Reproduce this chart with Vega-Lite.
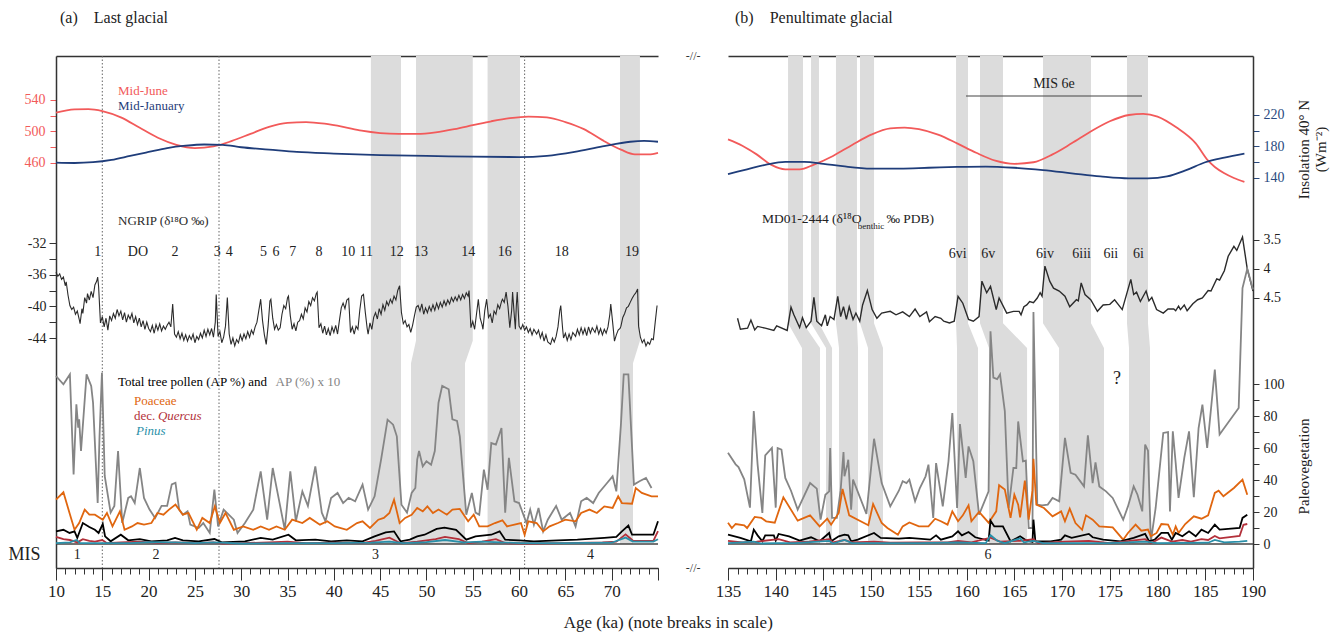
{
"$schema": "https://vega.github.io/schema/vega-lite/v6.json",
"background": "white",
"padding": {"left": 8, "top": 10, "right": 5, "bottom": 5},
"config": {
 "font": "Liberation Serif",
 "view": {"stroke": null},
 "axis": {"grid": false, "labelFont": "Liberation Serif", "titleFont": "Liberation Serif", "labelColor": "#222", "titleColor": "#222", "domainColor": "#333", "tickColor": "#333", "titleFontWeight": "normal", "labelFontSize": 14, "labelOverlap": false, "labelFlush": false, "labelBound": false},
 "title": {"font": "Liberation Serif", "fontWeight": "normal", "color": "#222"},
 "text": {"font": "Liberation Serif", "color": "#222"}
},
"title": {"text": "Age (ka) (note breaks in scale)", "orient": "bottom", "anchor": "middle", "frame": "bounds", "fontSize": 17, "offset": 16},
"datasets": {
 "ngrip": [
{"t":10.0,"v":-35.7},{"t":10.2,"v":-36.2},{"t":10.4,"v":-35.9},{"t":10.6,"v":-36.6},{"t":10.8,"v":-36.3},{"t":11.0,"v":-37.4},{"t":11.1,"v":-36.9},{"t":11.3,"v":-38.6},{"t":11.5,"v":-39.9},{"t":11.7,"v":-40.4},{"t":11.9,"v":-40.1},{"t":12.1,"v":-41.0},{"t":12.3,"v":-40.6},{"t":12.5,"v":-41.6},{"t":12.6,"v":-42.2},{"t":12.8,"v":-40.3},{"t":12.9,"v":-40.9},{"t":13.1,"v":-38.9},{"t":13.3,"v":-39.6},{"t":13.4,"v":-38.4},{"t":13.6,"v":-39.2},{"t":13.8,"v":-38.1},{"t":14.0,"v":-38.9},{"t":14.2,"v":-37.3},{"t":14.4,"v":-36.8},{"t":14.5,"v":-36.3},{"t":14.6,"v":-37.5},{"t":14.8,"v":-42.1},{"t":15.0,"v":-41.3},{"t":15.2,"v":-42.6},{"t":15.4,"v":-41.5},{"t":15.6,"v":-43.0},{"t":15.8,"v":-41.2},{"t":16.0,"v":-41.8},{"t":16.2,"v":-40.9},{"t":16.4,"v":-41.5},{"t":16.6,"v":-40.4},{"t":16.8,"v":-41.2},{"t":17.0,"v":-40.6},{"t":17.2,"v":-41.7},{"t":17.4,"v":-40.8},{"t":17.6,"v":-42.0},{"t":17.8,"v":-41.1},{"t":18.0,"v":-41.6},{"t":18.2,"v":-40.9},{"t":18.4,"v":-42.1},{"t":18.6,"v":-41.3},{"t":18.8,"v":-42.3},{"t":19.0,"v":-41.5},{"t":19.2,"v":-42.6},{"t":19.4,"v":-41.8},{"t":19.6,"v":-42.9},{"t":19.8,"v":-42.0},{"t":20.0,"v":-42.8},{"t":20.2,"v":-43.2},{"t":20.4,"v":-42.4},{"t":20.6,"v":-43.4},{"t":20.8,"v":-42.3},{"t":21.0,"v":-43.0},{"t":21.2,"v":-42.2},{"t":21.4,"v":-43.1},{"t":21.6,"v":-42.5},{"t":21.8,"v":-42.9},{"t":22.0,"v":-42.4},{"t":22.2,"v":-42.0},{"t":22.4,"v":-42.6},{"t":22.6,"v":-39.7},{"t":22.8,"v":-43.5},{"t":23.0,"v":-43.9},{"t":23.2,"v":-43.2},{"t":23.4,"v":-44.1},{"t":23.6,"v":-43.4},{"t":23.8,"v":-44.3},{"t":24.0,"v":-43.6},{"t":24.2,"v":-44.4},{"t":24.4,"v":-43.7},{"t":24.6,"v":-44.2},{"t":24.8,"v":-43.5},{"t":25.0,"v":-44.6},{"t":25.2,"v":-43.8},{"t":25.4,"v":-44.2},{"t":25.6,"v":-43.4},{"t":25.8,"v":-44.0},{"t":26.0,"v":-43.0},{"t":26.2,"v":-43.8},{"t":26.4,"v":-42.9},{"t":26.6,"v":-43.6},{"t":26.8,"v":-42.8},{"t":27.0,"v":-43.9},{"t":27.2,"v":-42.0},{"t":27.3,"v":-38.5},{"t":27.5,"v":-43.8},{"t":27.7,"v":-43.2},{"t":27.9,"v":-44.6},{"t":28.1,"v":-43.9},{"t":28.3,"v":-42.5},{"t":28.5,"v":-38.9},{"t":28.7,"v":-43.5},{"t":28.9,"v":-44.8},{"t":29.1,"v":-44.0},{"t":29.3,"v":-45.0},{"t":29.5,"v":-44.2},{"t":29.7,"v":-44.6},{"t":29.9,"v":-43.6},{"t":30.1,"v":-44.3},{"t":30.3,"v":-43.5},{"t":30.5,"v":-44.1},{"t":30.7,"v":-43.2},{"t":30.9,"v":-43.9},{"t":31.1,"v":-43.0},{"t":31.3,"v":-43.5},{"t":31.5,"v":-42.6},{"t":31.7,"v":-42.0},{"t":31.9,"v":-40.5},{"t":32.1,"v":-39.1},{"t":32.3,"v":-41.8},{"t":32.5,"v":-43.6},{"t":32.7,"v":-44.8},{"t":32.9,"v":-42.5},{"t":33.1,"v":-39.3},{"t":33.2,"v":-39.1},{"t":33.4,"v":-41.5},{"t":33.6,"v":-42.9},{"t":33.8,"v":-42.3},{"t":34.0,"v":-43.0},{"t":34.2,"v":-42.7},{"t":34.4,"v":-41.0},{"t":34.6,"v":-39.9},{"t":34.8,"v":-40.3},{"t":35.0,"v":-38.9},{"t":35.1,"v":-38.7},{"t":35.3,"v":-41.2},{"t":35.5,"v":-42.9},{"t":35.7,"v":-42.2},{"t":35.9,"v":-43.1},{"t":36.1,"v":-42.0},{"t":36.3,"v":-41.8},{"t":36.5,"v":-41.0},{"t":36.7,"v":-41.6},{"t":36.9,"v":-40.2},{"t":37.1,"v":-40.7},{"t":37.3,"v":-39.4},{"t":37.5,"v":-39.9},{"t":37.7,"v":-38.9},{"t":37.9,"v":-39.3},{"t":38.1,"v":-38.4},{"t":38.2,"v":-38.2},{"t":38.4,"v":-42.7},{"t":38.6,"v":-42.2},{"t":38.8,"v":-43.4},{"t":39.0,"v":-42.5},{"t":39.2,"v":-43.6},{"t":39.4,"v":-42.8},{"t":39.6,"v":-43.7},{"t":39.8,"v":-42.6},{"t":40.0,"v":-43.3},{"t":40.2,"v":-42.4},{"t":40.4,"v":-43.5},{"t":40.6,"v":-41.8},{"t":40.8,"v":-40.2},{"t":41.0,"v":-39.6},{"t":41.2,"v":-40.3},{"t":41.4,"v":-39.2},{"t":41.6,"v":-39.0},{"t":41.8,"v":-43.3},{"t":42.0,"v":-42.6},{"t":42.2,"v":-43.5},{"t":42.4,"v":-42.5},{"t":42.6,"v":-42.9},{"t":42.8,"v":-40.5},{"t":43.0,"v":-38.7},{"t":43.2,"v":-38.5},{"t":43.4,"v":-40.8},{"t":43.6,"v":-42.8},{"t":43.7,"v":-43.5},{"t":43.9,"v":-42.1},{"t":44.1,"v":-42.9},{"t":44.3,"v":-41.4},{"t":44.5,"v":-40.8},{"t":44.7,"v":-41.6},{"t":44.9,"v":-40.3},{"t":45.1,"v":-41.0},{"t":45.3,"v":-39.8},{"t":45.5,"v":-40.5},{"t":45.7,"v":-39.4},{"t":45.9,"v":-39.9},{"t":46.1,"v":-39.1},{"t":46.3,"v":-39.6},{"t":46.5,"v":-38.7},{"t":46.7,"v":-39.2},{"t":46.9,"v":-38.0},{"t":47.1,"v":-37.4},{"t":47.3,"v":-40.8},{"t":47.5,"v":-42.2},{"t":47.7,"v":-41.8},{"t":47.9,"v":-42.6},{"t":48.1,"v":-42.3},{"t":48.3,"v":-43.3},{"t":48.5,"v":-42.4},{"t":48.7,"v":-41.2},{"t":48.9,"v":-40.1},{"t":49.1,"v":-39.9},{"t":49.3,"v":-40.6},{"t":49.5,"v":-39.7},{"t":49.7,"v":-41.0},{"t":49.9,"v":-40.2},{"t":50.1,"v":-40.8},{"t":50.3,"v":-40.0},{"t":50.5,"v":-40.6},{"t":50.7,"v":-39.8},{"t":50.9,"v":-40.5},{"t":51.1,"v":-39.6},{"t":51.3,"v":-40.3},{"t":51.5,"v":-39.5},{"t":51.7,"v":-40.1},{"t":51.9,"v":-39.3},{"t":52.1,"v":-39.9},{"t":52.3,"v":-39.2},{"t":52.5,"v":-39.7},{"t":52.7,"v":-38.9},{"t":52.9,"v":-39.4},{"t":53.1,"v":-38.8},{"t":53.3,"v":-39.3},{"t":53.5,"v":-38.6},{"t":53.7,"v":-39.2},{"t":53.9,"v":-38.5},{"t":54.1,"v":-39.0},{"t":54.3,"v":-38.3},{"t":54.5,"v":-38.7},{"t":54.6,"v":-38.0},{"t":54.8,"v":-42.7},{"t":55.0,"v":-41.9},{"t":55.2,"v":-42.9},{"t":55.4,"v":-41.0},{"t":55.6,"v":-39.1},{"t":55.8,"v":-41.5},{"t":56.0,"v":-42.3},{"t":56.1,"v":-42.9},{"t":56.3,"v":-40.5},{"t":56.5,"v":-39.1},{"t":56.7,"v":-41.4},{"t":56.9,"v":-41.0},{"t":57.1,"v":-42.1},{"t":57.3,"v":-40.6},{"t":57.5,"v":-41.0},{"t":57.7,"v":-39.8},{"t":57.9,"v":-40.3},{"t":58.1,"v":-39.4},{"t":58.2,"v":-39.1},{"t":58.4,"v":-39.5},{"t":58.6,"v":-38.2},{"t":58.8,"v":-40.0},{"t":59.0,"v":-42.7},{"t":59.2,"v":-40.5},{"t":59.3,"v":-38.2},{"t":59.5,"v":-41.4},{"t":59.6,"v":-42.9},{"t":59.7,"v":-40.0},{"t":59.8,"v":-38.2},{"t":60.0,"v":-42.5},{"t":60.2,"v":-42.9},{"t":60.4,"v":-42.3},{"t":60.6,"v":-43.0},{"t":60.8,"v":-42.6},{"t":61.0,"v":-43.3},{"t":61.2,"v":-42.8},{"t":61.4,"v":-43.6},{"t":61.6,"v":-42.9},{"t":61.9,"v":-43.5},{"t":62.1,"v":-43.0},{"t":62.3,"v":-44.0},{"t":62.5,"v":-43.3},{"t":62.7,"v":-44.4},{"t":62.9,"v":-43.6},{"t":63.1,"v":-44.5},{"t":63.4,"v":-44.8},{"t":63.6,"v":-44.0},{"t":63.8,"v":-44.5},{"t":64.0,"v":-43.8},{"t":64.2,"v":-42.6},{"t":64.4,"v":-40.5},{"t":64.5,"v":-39.9},{"t":64.7,"v":-42.8},{"t":64.8,"v":-44.0},{"t":65.0,"v":-43.4},{"t":65.2,"v":-44.3},{"t":65.4,"v":-43.5},{"t":65.6,"v":-44.2},{"t":65.8,"v":-43.3},{"t":66.1,"v":-43.8},{"t":66.3,"v":-42.9},{"t":66.5,"v":-43.6},{"t":66.7,"v":-42.7},{"t":66.9,"v":-43.5},{"t":67.1,"v":-42.8},{"t":67.3,"v":-43.7},{"t":67.5,"v":-42.6},{"t":67.7,"v":-43.4},{"t":67.9,"v":-42.7},{"t":68.2,"v":-43.3},{"t":68.4,"v":-42.5},{"t":68.6,"v":-43.5},{"t":68.8,"v":-42.8},{"t":69.0,"v":-43.6},{"t":69.2,"v":-42.9},{"t":69.4,"v":-43.4},{"t":69.6,"v":-42.6},{"t":69.8,"v":-41.0},{"t":69.9,"v":-39.7},{"t":70.1,"v":-42.0},{"t":70.3,"v":-44.4},{"t":70.5,"v":-43.6},{"t":70.7,"v":-43.0},{"t":70.9,"v":-42.8},{"t":71.0,"v":-42.5},{"t":71.2,"v":-41.4},{"t":71.4,"v":-40.9},{"t":71.6,"v":-40.2},{"t":71.8,"v":-40.0},{"t":72.0,"v":-39.5},{"t":72.2,"v":-39.0},{"t":72.4,"v":-38.6},{"t":72.6,"v":-38.3},{"t":72.8,"v":-37.8},{"t":72.9,"v":-42.5},{"t":73.1,"v":-43.9},{"t":73.3,"v":-44.6},{"t":73.5,"v":-44.2},{"t":73.7,"v":-45.0},{"t":73.9,"v":-44.5},{"t":74.1,"v":-44.8},{"t":74.3,"v":-44.1},{"t":74.5,"v":-44.2},{"t":74.7,"v":-42.0},{"t":74.9,"v":-39.9}
 ],
 "insA": [
{"t":10,"v":524,"s":"Mid-June"},{"t":12,"v":528,"s":"Mid-June"},{"t":13.5,"v":528.5,"s":"Mid-June"},{"t":15,"v":526,"s":"Mid-June"},{"t":17,"v":518,"s":"Mid-June"},{"t":19,"v":505,"s":"Mid-June"},{"t":21,"v":492,"s":"Mid-June"},{"t":23,"v":483,"s":"Mid-June"},{"t":25,"v":479,"s":"Mid-June"},{"t":27,"v":481,"s":"Mid-June"},{"t":29,"v":488,"s":"Mid-June"},{"t":31,"v":497,"s":"Mid-June"},{"t":33,"v":506,"s":"Mid-June"},{"t":35,"v":511,"s":"Mid-June"},{"t":37,"v":512,"s":"Mid-June"},{"t":39,"v":510,"s":"Mid-June"},{"t":41,"v":506,"s":"Mid-June"},{"t":43,"v":501,"s":"Mid-June"},{"t":45,"v":498,"s":"Mid-June"},{"t":47,"v":497,"s":"Mid-June"},{"t":49,"v":497,"s":"Mid-June"},{"t":51,"v":499,"s":"Mid-June"},{"t":53,"v":503,"s":"Mid-June"},{"t":55,"v":508,"s":"Mid-June"},{"t":57,"v":513,"s":"Mid-June"},{"t":59,"v":517,"s":"Mid-June"},{"t":61,"v":519,"s":"Mid-June"},{"t":63,"v":518,"s":"Mid-June"},{"t":65,"v":512,"s":"Mid-June"},{"t":67,"v":503,"s":"Mid-June"},{"t":69,"v":489,"s":"Mid-June"},{"t":71,"v":477,"s":"Mid-June"},{"t":72.5,"v":471,"s":"Mid-June"},{"t":74,"v":471,"s":"Mid-June"},{"t":75,"v":473,"s":"Mid-June"},
{"t":10,"v":460.5,"s":"Mid-January"},{"t":12,"v":460,"s":"Mid-January"},{"t":14,"v":461,"s":"Mid-January"},{"t":16,"v":464,"s":"Mid-January"},{"t":18,"v":469,"s":"Mid-January"},{"t":20,"v":474,"s":"Mid-January"},{"t":22,"v":479,"s":"Mid-January"},{"t":24,"v":482,"s":"Mid-January"},{"t":26,"v":483.5,"s":"Mid-January"},{"t":28,"v":483,"s":"Mid-January"},{"t":30,"v":480,"s":"Mid-January"},{"t":33,"v":477,"s":"Mid-January"},{"t":36,"v":474,"s":"Mid-January"},{"t":40,"v":472,"s":"Mid-January"},{"t":45,"v":470,"s":"Mid-January"},{"t":50,"v":469,"s":"Mid-January"},{"t":55,"v":468,"s":"Mid-January"},{"t":60,"v":467.5,"s":"Mid-January"},{"t":63,"v":469,"s":"Mid-January"},{"t":66,"v":474,"s":"Mid-January"},{"t":69,"v":481,"s":"Mid-January"},{"t":72,"v":487,"s":"Mid-January"},{"t":73.5,"v":488,"s":"Mid-January"},{"t":75,"v":487,"s":"Mid-January"}
 ],
 "insB": [
{"t":135,"v":189,"s":"Mid-June"},{"t":136.5,"v":181,"s":"Mid-June"},{"t":138,"v":170,"s":"Mid-June"},{"t":139.5,"v":157,"s":"Mid-June"},{"t":141,"v":151,"s":"Mid-June"},{"t":142.5,"v":151,"s":"Mid-June"},{"t":144,"v":157,"s":"Mid-June"},{"t":146,"v":168,"s":"Mid-June"},{"t":148,"v":182,"s":"Mid-June"},{"t":150,"v":195,"s":"Mid-June"},{"t":152,"v":203,"s":"Mid-June"},{"t":153.5,"v":204,"s":"Mid-June"},{"t":155,"v":202,"s":"Mid-June"},{"t":157,"v":195,"s":"Mid-June"},{"t":159,"v":184,"s":"Mid-June"},{"t":161,"v":172,"s":"Mid-June"},{"t":163,"v":162,"s":"Mid-June"},{"t":165,"v":158,"s":"Mid-June"},{"t":167,"v":160,"s":"Mid-June"},{"t":169,"v":170,"s":"Mid-June"},{"t":171,"v":184,"s":"Mid-June"},{"t":173,"v":199,"s":"Mid-June"},{"t":175,"v":212,"s":"Mid-June"},{"t":177,"v":220,"s":"Mid-June"},{"t":178.5,"v":221.5,"s":"Mid-June"},{"t":180,"v":218,"s":"Mid-June"},{"t":182,"v":204,"s":"Mid-June"},{"t":184,"v":184,"s":"Mid-June"},{"t":185.3,"v":162,"s":"Mid-June"},{"t":186,"v":154,"s":"Mid-June"},{"t":187,"v":146,"s":"Mid-June"},{"t":188,"v":140,"s":"Mid-June"},{"t":189.1,"v":135,"s":"Mid-June"},
{"t":135,"v":145,"s":"Mid-January"},{"t":137,"v":151,"s":"Mid-January"},{"t":139,"v":157,"s":"Mid-January"},{"t":141,"v":160.5,"s":"Mid-January"},{"t":143,"v":160.5,"s":"Mid-January"},{"t":145,"v":158,"s":"Mid-January"},{"t":147,"v":155,"s":"Mid-January"},{"t":150,"v":152,"s":"Mid-January"},{"t":153,"v":152,"s":"Mid-January"},{"t":156,"v":153,"s":"Mid-January"},{"t":159,"v":154,"s":"Mid-January"},{"t":162,"v":154.5,"s":"Mid-January"},{"t":165,"v":153,"s":"Mid-January"},{"t":168,"v":150,"s":"Mid-January"},{"t":171,"v":146,"s":"Mid-January"},{"t":174,"v":142,"s":"Mid-January"},{"t":177,"v":139.5,"s":"Mid-January"},{"t":179,"v":139.5,"s":"Mid-January"},{"t":181,"v":142,"s":"Mid-January"},{"t":183,"v":150,"s":"Mid-January"},{"t":185,"v":160,"s":"Mid-January"},{"t":187,"v":166,"s":"Mid-January"},{"t":189.1,"v":171,"s":"Mid-January"}
 ],
 "md01": [
{"t":136.0,"v":4.85},{"t":136.3,"v":5.04},{"t":137.05,"v":5.02},{"t":137.4,"v":4.88},{"t":137.8,"v":5.05},{"t":138.1,"v":4.99},{"t":138.9,"v":5.02},{"t":139.8,"v":5.06},{"t":140.1,"v":4.98},{"t":141.2,"v":5.06},{"t":141.6,"v":4.66},{"t":141.9,"v":4.79},{"t":142.5,"v":5.01},{"t":142.8,"v":4.84},{"t":143.2,"v":5.01},{"t":143.7,"v":4.9},{"t":144.0,"v":4.49},{"t":144.3,"v":4.9},{"t":144.8,"v":4.98},{"t":145.2,"v":4.79},{"t":145.4,"v":4.98},{"t":145.7,"v":4.82},{"t":146.1,"v":4.87},{"t":146.5,"v":4.47},{"t":146.8,"v":4.82},{"t":147.1,"v":4.65},{"t":147.4,"v":4.87},{"t":147.7,"v":4.65},{"t":148.1,"v":4.87},{"t":148.4,"v":4.76},{"t":148.8,"v":4.9},{"t":149.1,"v":4.62},{"t":149.6,"v":4.37},{"t":150.1,"v":4.7},{"t":150.6,"v":4.85},{"t":151.1,"v":4.76},{"t":152.0,"v":4.73},{"t":152.6,"v":4.79},{"t":153.3,"v":4.74},{"t":154.0,"v":4.82},{"t":154.6,"v":4.69},{"t":155.1,"v":4.82},{"t":155.8,"v":4.74},{"t":156.1,"v":4.91},{"t":156.7,"v":4.82},{"t":157.3,"v":4.85},{"t":157.6,"v":4.9},{"t":158.2,"v":4.93},{"t":158.7,"v":4.9},{"t":159.1,"v":4.47},{"t":159.6,"v":4.59},{"t":160.2,"v":4.87},{"t":160.7,"v":4.9},{"t":161.3,"v":4.82},{"t":161.6,"v":4.21},{"t":162.1,"v":4.41},{"t":162.5,"v":4.3},{"t":163.1,"v":4.7},{"t":163.4,"v":4.5},{"t":164.2,"v":4.76},{"t":164.9,"v":4.73},{"t":165.5,"v":4.73},{"t":165.7,"v":4.79},{"t":166.0,"v":4.65},{"t":166.3,"v":4.62},{"t":166.6,"v":4.56},{"t":167.0,"v":4.58},{"t":167.4,"v":4.5},{"t":167.7,"v":4.41},{"t":167.9,"v":4.47},{"t":168.2,"v":3.95},{"t":168.7,"v":4.21},{"t":169.1,"v":4.33},{"t":169.7,"v":4.38},{"t":170.3,"v":4.47},{"t":170.8,"v":4.65},{"t":171.5,"v":4.53},{"t":171.7,"v":4.55},{"t":172.0,"v":4.24},{"t":172.4,"v":4.44},{"t":173.0,"v":4.53},{"t":173.7,"v":4.73},{"t":174.3,"v":4.62},{"t":175.0,"v":4.61},{"t":175.5,"v":4.53},{"t":176.3,"v":4.7},{"t":177.2,"v":4.18},{"t":177.5,"v":4.44},{"t":177.8,"v":4.4},{"t":178.2,"v":4.56},{"t":178.8,"v":4.38},{"t":179.1,"v":4.55},{"t":179.4,"v":4.49},{"t":179.9,"v":4.7},{"t":180.6,"v":4.76},{"t":181.1,"v":4.69},{"t":181.7,"v":4.69},{"t":181.9,"v":4.72},{"t":182.2,"v":4.64},{"t":182.4,"v":4.7},{"t":182.8,"v":4.62},{"t":183.1,"v":4.72},{"t":183.7,"v":4.6},{"t":184.2,"v":4.53},{"t":184.7,"v":4.5},{"t":185.3,"v":4.37},{"t":185.6,"v":4.38},{"t":186.2,"v":4.17},{"t":186.5,"v":4.19},{"t":187.0,"v":4.03},{"t":187.4,"v":3.78},{"t":188.0,"v":3.61},{"t":188.3,"v":3.68},{"t":188.9,"v":3.45},{"t":189.4,"v":4.0},{"t":190.0,"v":4.38}
 ],
 "polA": [
{"t":10.0,"v":105,"s":"AP x 10"},{"t":10.8,"v":99.8,"s":"AP x 10"},{"t":11.5,"v":106,"s":"AP x 10"},{"t":11.9,"v":43.5,"s":"AP x 10"},{"t":12.2,"v":87.3,"s":"AP x 10"},{"t":12.4,"v":72.7,"s":"AP x 10"},{"t":12.5,"v":77.9,"s":"AP x 10"},{"t":12.7,"v":58.1,"s":"AP x 10"},{"t":13.3,"v":106,"s":"AP x 10"},{"t":13.8,"v":98.8,"s":"AP x 10"},{"t":14.0,"v":88.3,"s":"AP x 10"},{"t":14.5,"v":25.6,"s":"AP x 10"},{"t":14.7,"v":67.3,"s":"AP x 10"},{"t":14.96,"v":107,"s":"AP x 10"},{"t":15.26,"v":42.5,"s":"AP x 10"},{"t":15.9,"v":19.6,"s":"AP x 10"},{"t":16.3,"v":23.8,"s":"AP x 10"},{"t":16.7,"v":58.1,"s":"AP x 10"},{"t":17.15,"v":13.1,"s":"AP x 10"},{"t":17.8,"v":28.8,"s":"AP x 10"},{"t":18.1,"v":29.8,"s":"AP x 10"},{"t":18.5,"v":25.6,"s":"AP x 10"},{"t":19.05,"v":47.5,"s":"AP x 10"},{"t":19.5,"v":28.8,"s":"AP x 10"},{"t":20.1,"v":21.5,"s":"AP x 10"},{"t":20.7,"v":16.3,"s":"AP x 10"},{"t":21.4,"v":23.8,"s":"AP x 10"},{"t":22.0,"v":23.8,"s":"AP x 10"},{"t":22.5,"v":37.3,"s":"AP x 10"},{"t":22.9,"v":38.3,"s":"AP x 10"},{"t":23.3,"v":21.5,"s":"AP x 10"},{"t":23.7,"v":18.3,"s":"AP x 10"},{"t":24.2,"v":20.4,"s":"AP x 10"},{"t":24.5,"v":12.1,"s":"AP x 10"},{"t":25.4,"v":10,"s":"AP x 10"},{"t":25.9,"v":13.1,"s":"AP x 10"},{"t":26.6,"v":6.9,"s":"AP x 10"},{"t":27.1,"v":34,"s":"AP x 10"},{"t":27.5,"v":11,"s":"AP x 10"},{"t":28.1,"v":21.5,"s":"AP x 10"},{"t":29.2,"v":15.2,"s":"AP x 10"},{"t":29.6,"v":6.9,"s":"AP x 10"},{"t":30.4,"v":13.1,"s":"AP x 10"},{"t":31.3,"v":21.5,"s":"AP x 10"},{"t":32.1,"v":45.4,"s":"AP x 10"},{"t":32.8,"v":15.2,"s":"AP x 10"},{"t":33.4,"v":47.5,"s":"AP x 10"},{"t":34.2,"v":23.8,"s":"AP x 10"},{"t":34.7,"v":9,"s":"AP x 10"},{"t":35.3,"v":45.4,"s":"AP x 10"},{"t":35.9,"v":14.2,"s":"AP x 10"},{"t":36.6,"v":32.9,"s":"AP x 10"},{"t":37.2,"v":23.8,"s":"AP x 10"},{"t":38.0,"v":48.5,"s":"AP x 10"},{"t":38.7,"v":19.6,"s":"AP x 10"},{"t":39.1,"v":14.2,"s":"AP x 10"},{"t":39.7,"v":28.8,"s":"AP x 10"},{"t":40.4,"v":31.9,"s":"AP x 10"},{"t":41.0,"v":25.6,"s":"AP x 10"},{"t":41.6,"v":28.8,"s":"AP x 10"},{"t":42.3,"v":26.7,"s":"AP x 10"},{"t":43.1,"v":37.1,"s":"AP x 10"},{"t":43.7,"v":21.5,"s":"AP x 10"},{"t":44.4,"v":29.8,"s":"AP x 10"},{"t":45.1,"v":52.7,"s":"AP x 10"},{"t":45.8,"v":77.7,"s":"AP x 10"},{"t":46.4,"v":74.6,"s":"AP x 10"},{"t":46.8,"v":67.3,"s":"AP x 10"},{"t":47.3,"v":24.6,"s":"AP x 10"},{"t":47.9,"v":19.6,"s":"AP x 10"},{"t":48.4,"v":31.9,"s":"AP x 10"},{"t":48.8,"v":35,"s":"AP x 10"},{"t":49.0,"v":52.7,"s":"AP x 10"},{"t":49.2,"v":58.1,"s":"AP x 10"},{"t":49.6,"v":48.5,"s":"AP x 10"},{"t":50.0,"v":51.7,"s":"AP x 10"},{"t":50.5,"v":49.6,"s":"AP x 10"},{"t":50.9,"v":58.1,"s":"AP x 10"},{"t":51.3,"v":88.3,"s":"AP x 10"},{"t":51.7,"v":98.8,"s":"AP x 10"},{"t":52.4,"v":96.7,"s":"AP x 10"},{"t":52.8,"v":77.9,"s":"AP x 10"},{"t":53.3,"v":76.9,"s":"AP x 10"},{"t":53.6,"v":67.3,"s":"AP x 10"},{"t":54.3,"v":18.3,"s":"AP x 10"},{"t":54.9,"v":31.9,"s":"AP x 10"},{"t":55.3,"v":19.6,"s":"AP x 10"},{"t":55.7,"v":18.3,"s":"AP x 10"},{"t":56.2,"v":46.5,"s":"AP x 10"},{"t":56.6,"v":33.9,"s":"AP x 10"},{"t":57.0,"v":63.1,"s":"AP x 10"},{"t":57.5,"v":62.1,"s":"AP x 10"},{"t":58.1,"v":72.5,"s":"AP x 10"},{"t":58.5,"v":19.6,"s":"AP x 10"},{"t":58.9,"v":53.8,"s":"AP x 10"},{"t":59.5,"v":26.7,"s":"AP x 10"},{"t":60.0,"v":25.6,"s":"AP x 10"},{"t":60.8,"v":13.1,"s":"AP x 10"},{"t":61.2,"v":21.5,"s":"AP x 10"},{"t":61.6,"v":12.1,"s":"AP x 10"},{"t":62.1,"v":22.5,"s":"AP x 10"},{"t":62.6,"v":7.9,"s":"AP x 10"},{"t":63.1,"v":15.2,"s":"AP x 10"},{"t":64.0,"v":23.8,"s":"AP x 10"},{"t":64.6,"v":15.2,"s":"AP x 10"},{"t":65.5,"v":19.4,"s":"AP x 10"},{"t":66.1,"v":11,"s":"AP x 10"},{"t":66.7,"v":26.7,"s":"AP x 10"},{"t":67.3,"v":28.8,"s":"AP x 10"},{"t":68.0,"v":25.6,"s":"AP x 10"},{"t":68.6,"v":31.9,"s":"AP x 10"},{"t":69.5,"v":38.1,"s":"AP x 10"},{"t":70.1,"v":42.3,"s":"AP x 10"},{"t":70.5,"v":32.9,"s":"AP x 10"},{"t":71.0,"v":75,"s":"AP x 10"},{"t":71.3,"v":106,"s":"AP x 10"},{"t":71.8,"v":106,"s":"AP x 10"},{"t":72.4,"v":37.1,"s":"AP x 10"},{"t":73.0,"v":39.2,"s":"AP x 10"},{"t":73.7,"v":41.3,"s":"AP x 10"},{"t":74.3,"v":35,"s":"AP x 10"},
{"t":10.0,"v":27.7,"s":"Poaceae"},{"t":10.8,"v":32.3,"s":"Poaceae"},{"t":11.46,"v":19.4,"s":"Poaceae"},{"t":12.0,"v":8.9,"s":"Poaceae"},{"t":12.5,"v":13.1,"s":"Poaceae"},{"t":13.1,"v":21.5,"s":"Poaceae"},{"t":13.6,"v":18.3,"s":"Poaceae"},{"t":14.2,"v":18.3,"s":"Poaceae"},{"t":15.05,"v":15.2,"s":"Poaceae"},{"t":15.5,"v":19.4,"s":"Poaceae"},{"t":16.1,"v":11,"s":"Poaceae"},{"t":16.9,"v":20.4,"s":"Poaceae"},{"t":17.4,"v":8.9,"s":"Poaceae"},{"t":18.2,"v":11,"s":"Poaceae"},{"t":18.8,"v":13.1,"s":"Poaceae"},{"t":19.5,"v":12.1,"s":"Poaceae"},{"t":20.3,"v":13.1,"s":"Poaceae"},{"t":20.95,"v":19.4,"s":"Poaceae"},{"t":21.6,"v":18.3,"s":"Poaceae"},{"t":22.2,"v":21.5,"s":"Poaceae"},{"t":22.9,"v":24.6,"s":"Poaceae"},{"t":23.7,"v":18.3,"s":"Poaceae"},{"t":24.3,"v":19.4,"s":"Poaceae"},{"t":25.2,"v":8.9,"s":"Poaceae"},{"t":25.8,"v":16.3,"s":"Poaceae"},{"t":26.6,"v":13.1,"s":"Poaceae"},{"t":27.15,"v":23.5,"s":"Poaceae"},{"t":27.7,"v":13.1,"s":"Poaceae"},{"t":28.3,"v":19.4,"s":"Poaceae"},{"t":29.2,"v":8.9,"s":"Poaceae"},{"t":30.2,"v":11,"s":"Poaceae"},{"t":31.3,"v":8.9,"s":"Poaceae"},{"t":32.1,"v":11,"s":"Poaceae"},{"t":33.0,"v":8.9,"s":"Poaceae"},{"t":33.8,"v":11,"s":"Poaceae"},{"t":34.7,"v":8.9,"s":"Poaceae"},{"t":35.5,"v":15.2,"s":"Poaceae"},{"t":36.6,"v":13.1,"s":"Poaceae"},{"t":37.4,"v":16.3,"s":"Poaceae"},{"t":38.5,"v":12.1,"s":"Poaceae"},{"t":39.3,"v":14.2,"s":"Poaceae"},{"t":40.1,"v":11,"s":"Poaceae"},{"t":41.4,"v":8.9,"s":"Poaceae"},{"t":42.5,"v":13.1,"s":"Poaceae"},{"t":43.1,"v":14.2,"s":"Poaceae"},{"t":43.9,"v":10,"s":"Poaceae"},{"t":44.8,"v":15.2,"s":"Poaceae"},{"t":45.4,"v":16.3,"s":"Poaceae"},{"t":46.0,"v":19.4,"s":"Poaceae"},{"t":46.5,"v":27.7,"s":"Poaceae"},{"t":47.1,"v":13.1,"s":"Poaceae"},{"t":47.7,"v":16.3,"s":"Poaceae"},{"t":48.4,"v":18.3,"s":"Poaceae"},{"t":49.0,"v":22.5,"s":"Poaceae"},{"t":49.6,"v":20.4,"s":"Poaceae"},{"t":50.1,"v":23.5,"s":"Poaceae"},{"t":50.7,"v":19.4,"s":"Poaceae"},{"t":51.3,"v":21.5,"s":"Poaceae"},{"t":52.2,"v":18.3,"s":"Poaceae"},{"t":52.8,"v":21.5,"s":"Poaceae"},{"t":53.6,"v":21.9,"s":"Poaceae"},{"t":54.5,"v":14.2,"s":"Poaceae"},{"t":55.1,"v":18.3,"s":"Poaceae"},{"t":55.7,"v":11,"s":"Poaceae"},{"t":56.6,"v":11,"s":"Poaceae"},{"t":57.4,"v":13.1,"s":"Poaceae"},{"t":58.2,"v":14.8,"s":"Poaceae"},{"t":58.7,"v":11,"s":"Poaceae"},{"t":59.5,"v":12.1,"s":"Poaceae"},{"t":60.2,"v":13.1,"s":"Poaceae"},{"t":60.6,"v":5.8,"s":"Poaceae"},{"t":61.0,"v":14.2,"s":"Poaceae"},{"t":61.9,"v":13.1,"s":"Poaceae"},{"t":62.6,"v":7.9,"s":"Poaceae"},{"t":63.3,"v":11,"s":"Poaceae"},{"t":64.2,"v":13.1,"s":"Poaceae"},{"t":65.0,"v":15.2,"s":"Poaceae"},{"t":66.1,"v":14.2,"s":"Poaceae"},{"t":66.7,"v":19.4,"s":"Poaceae"},{"t":67.6,"v":21.5,"s":"Poaceae"},{"t":68.4,"v":19.4,"s":"Poaceae"},{"t":69.2,"v":23.5,"s":"Poaceae"},{"t":70.1,"v":22.5,"s":"Poaceae"},{"t":70.7,"v":29.8,"s":"Poaceae"},{"t":71.1,"v":25.6,"s":"Poaceae"},{"t":72.2,"v":25.2,"s":"Poaceae"},{"t":72.6,"v":35,"s":"Poaceae"},{"t":73.25,"v":31.9,"s":"Poaceae"},{"t":74.3,"v":29.8,"s":"Poaceae"},{"t":75.0,"v":29.8,"s":"Poaceae"},
{"t":10.0,"v":7.9,"s":"Total tree pollen"},{"t":10.8,"v":8.9,"s":"Total tree pollen"},{"t":11.46,"v":6.9,"s":"Total tree pollen"},{"t":12.0,"v":7.9,"s":"Total tree pollen"},{"t":12.3,"v":3.8,"s":"Total tree pollen"},{"t":12.9,"v":13.1,"s":"Total tree pollen"},{"t":13.6,"v":10.6,"s":"Total tree pollen"},{"t":14.2,"v":8.9,"s":"Total tree pollen"},{"t":14.6,"v":6.9,"s":"Total tree pollen"},{"t":15.05,"v":12.5,"s":"Total tree pollen"},{"t":15.3,"v":4.8,"s":"Total tree pollen"},{"t":15.9,"v":1.7,"s":"Total tree pollen"},{"t":17.0,"v":5.8,"s":"Total tree pollen"},{"t":17.8,"v":2.3,"s":"Total tree pollen"},{"t":19.05,"v":3.1,"s":"Total tree pollen"},{"t":20.3,"v":1.7,"s":"Total tree pollen"},{"t":22.0,"v":2.3,"s":"Total tree pollen"},{"t":22.85,"v":3.8,"s":"Total tree pollen"},{"t":23.7,"v":2.3,"s":"Total tree pollen"},{"t":25.4,"v":1.7,"s":"Total tree pollen"},{"t":27.1,"v":3.1,"s":"Total tree pollen"},{"t":27.9,"v":1,"s":"Total tree pollen"},{"t":30.4,"v":1.7,"s":"Total tree pollen"},{"t":32.1,"v":3.8,"s":"Total tree pollen"},{"t":33.4,"v":2.7,"s":"Total tree pollen"},{"t":35.1,"v":5.8,"s":"Total tree pollen"},{"t":35.9,"v":2.3,"s":"Total tree pollen"},{"t":38.0,"v":2.7,"s":"Total tree pollen"},{"t":39.7,"v":1.7,"s":"Total tree pollen"},{"t":41.4,"v":2.3,"s":"Total tree pollen"},{"t":43.1,"v":1.7,"s":"Total tree pollen"},{"t":44.4,"v":4.8,"s":"Total tree pollen"},{"t":45.6,"v":7.3,"s":"Total tree pollen"},{"t":46.5,"v":7.9,"s":"Total tree pollen"},{"t":47.2,"v":1.7,"s":"Total tree pollen"},{"t":48.2,"v":2.7,"s":"Total tree pollen"},{"t":49.0,"v":4.8,"s":"Total tree pollen"},{"t":49.8,"v":5.8,"s":"Total tree pollen"},{"t":51.1,"v":9.4,"s":"Total tree pollen"},{"t":51.95,"v":10.2,"s":"Total tree pollen"},{"t":53.2,"v":8.9,"s":"Total tree pollen"},{"t":54.3,"v":2.7,"s":"Total tree pollen"},{"t":55.3,"v":4.8,"s":"Total tree pollen"},{"t":57.0,"v":5.8,"s":"Total tree pollen"},{"t":57.9,"v":7.9,"s":"Total tree pollen"},{"t":58.5,"v":2.7,"s":"Total tree pollen"},{"t":60.0,"v":2.3,"s":"Total tree pollen"},{"t":61.6,"v":1.7,"s":"Total tree pollen"},{"t":64.2,"v":2.3,"s":"Total tree pollen"},{"t":66.3,"v":2.7,"s":"Total tree pollen"},{"t":69.2,"v":3.8,"s":"Total tree pollen"},{"t":70.5,"v":4.4,"s":"Total tree pollen"},{"t":71.1,"v":7.9,"s":"Total tree pollen"},{"t":71.8,"v":11.5,"s":"Total tree pollen"},{"t":72.2,"v":5.8,"s":"Total tree pollen"},{"t":73.5,"v":5.8,"s":"Total tree pollen"},{"t":74.5,"v":5.8,"s":"Total tree pollen"},{"t":75.0,"v":14.2,"s":"Total tree pollen"},
{"t":10.0,"v":4.5,"s":"Quercus"},{"t":10.8,"v":3,"s":"Quercus"},{"t":11.5,"v":2.5,"s":"Quercus"},{"t":12.3,"v":1,"s":"Quercus"},{"t":12.9,"v":3,"s":"Quercus"},{"t":13.6,"v":2,"s":"Quercus"},{"t":14.2,"v":1.5,"s":"Quercus"},{"t":15,"v":2.5,"s":"Quercus"},{"t":15.5,"v":0.5,"s":"Quercus"},{"t":17,"v":1,"s":"Quercus"},{"t":19,"v":1.5,"s":"Quercus"},{"t":21,"v":0.5,"s":"Quercus"},{"t":22.9,"v":1,"s":"Quercus"},{"t":25,"v":0.5,"s":"Quercus"},{"t":27,"v":1,"s":"Quercus"},{"t":28,"v":0.3,"s":"Quercus"},{"t":30,"v":0.5,"s":"Quercus"},{"t":33,"v":1,"s":"Quercus"},{"t":35,"v":1.5,"s":"Quercus"},{"t":37,"v":0.5,"s":"Quercus"},{"t":40,"v":0.8,"s":"Quercus"},{"t":43,"v":0.5,"s":"Quercus"},{"t":44.5,"v":2,"s":"Quercus"},{"t":46,"v":4,"s":"Quercus"},{"t":47.2,"v":0.5,"s":"Quercus"},{"t":49,"v":1.5,"s":"Quercus"},{"t":51,"v":3,"s":"Quercus"},{"t":52,"v":4.5,"s":"Quercus"},{"t":53.5,"v":3,"s":"Quercus"},{"t":54.5,"v":0.5,"s":"Quercus"},{"t":56,"v":1.5,"s":"Quercus"},{"t":57.5,"v":3,"s":"Quercus"},{"t":58.5,"v":0.5,"s":"Quercus"},{"t":61,"v":0.3,"s":"Quercus"},{"t":65,"v":0.5,"s":"Quercus"},{"t":69,"v":1,"s":"Quercus"},{"t":70.5,"v":1.5,"s":"Quercus"},{"t":71.5,"v":6,"s":"Quercus"},{"t":72.3,"v":2,"s":"Quercus"},{"t":74.5,"v":2,"s":"Quercus"},{"t":75,"v":8,"s":"Quercus"},
{"t":10.0,"v":0.5,"s":"Pinus"},{"t":11.5,"v":1,"s":"Pinus"},{"t":12.2,"v":2.5,"s":"Pinus"},{"t":12.6,"v":0.5,"s":"Pinus"},{"t":15,"v":0.5,"s":"Pinus"},{"t":18,"v":0.5,"s":"Pinus"},{"t":20,"v":1.2,"s":"Pinus"},{"t":23,"v":1,"s":"Pinus"},{"t":25,"v":0.5,"s":"Pinus"},{"t":27,"v":1,"s":"Pinus"},{"t":30,"v":0.3,"s":"Pinus"},{"t":35,"v":0.5,"s":"Pinus"},{"t":40,"v":0.5,"s":"Pinus"},{"t":44,"v":0.8,"s":"Pinus"},{"t":46,"v":1.5,"s":"Pinus"},{"t":47.5,"v":0.5,"s":"Pinus"},{"t":50,"v":1.2,"s":"Pinus"},{"t":52,"v":2.5,"s":"Pinus"},{"t":54,"v":1,"s":"Pinus"},{"t":56,"v":1.5,"s":"Pinus"},{"t":58,"v":1,"s":"Pinus"},{"t":60,"v":0.5,"s":"Pinus"},{"t":65,"v":0.5,"s":"Pinus"},{"t":70,"v":0.8,"s":"Pinus"},{"t":71.5,"v":4,"s":"Pinus"},{"t":72.3,"v":1.5,"s":"Pinus"},{"t":74.5,"v":1.5,"s":"Pinus"},{"t":75,"v":3,"s":"Pinus"}
 ],
 "polB": [
{"t":135.0,"v":57.1,"s":"AP x 10"},{"t":135.8,"v":49.8,"s":"AP x 10"},{"t":136.1,"v":48.1,"s":"AP x 10"},{"t":136.7,"v":40.4,"s":"AP x 10"},{"t":137.3,"v":22.7,"s":"AP x 10"},{"t":137.7,"v":83.1,"s":"AP x 10"},{"t":138.1,"v":49.8,"s":"AP x 10"},{"t":138.6,"v":19.4,"s":"AP x 10"},{"t":138.9,"v":55.4,"s":"AP x 10"},{"t":139.6,"v":60,"s":"AP x 10"},{"t":140.0,"v":22.7,"s":"AP x 10"},{"t":140.2,"v":60,"s":"AP x 10"},{"t":140.6,"v":59,"s":"AP x 10"},{"t":141.0,"v":41.3,"s":"AP x 10"},{"t":141.6,"v":33.3,"s":"AP x 10"},{"t":142.3,"v":21.5,"s":"AP x 10"},{"t":143.6,"v":38.1,"s":"AP x 10"},{"t":144.3,"v":34.6,"s":"AP x 10"},{"t":144.7,"v":15.2,"s":"AP x 10"},{"t":145.2,"v":30.8,"s":"AP x 10"},{"t":145.6,"v":32.9,"s":"AP x 10"},{"t":145.7,"v":60,"s":"AP x 10"},{"t":145.9,"v":16.3,"s":"AP x 10"},{"t":146.4,"v":16.3,"s":"AP x 10"},{"t":146.8,"v":33.5,"s":"AP x 10"},{"t":147.1,"v":57.5,"s":"AP x 10"},{"t":147.2,"v":42.3,"s":"AP x 10"},{"t":147.5,"v":49.6,"s":"AP x 10"},{"t":147.6,"v":52.7,"s":"AP x 10"},{"t":147.9,"v":21.5,"s":"AP x 10"},{"t":148.1,"v":40.2,"s":"AP x 10"},{"t":149.5,"v":18.8,"s":"AP x 10"},{"t":150.3,"v":65.8,"s":"AP x 10"},{"t":151.1,"v":38.1,"s":"AP x 10"},{"t":152.0,"v":23.5,"s":"AP x 10"},{"t":152.9,"v":33.3,"s":"AP x 10"},{"t":153.3,"v":39.2,"s":"AP x 10"},{"t":153.7,"v":38.1,"s":"AP x 10"},{"t":154.0,"v":40.2,"s":"AP x 10"},{"t":154.6,"v":26.7,"s":"AP x 10"},{"t":155.1,"v":35,"s":"AP x 10"},{"t":155.7,"v":42.3,"s":"AP x 10"},{"t":156.0,"v":49.6,"s":"AP x 10"},{"t":156.5,"v":16.3,"s":"AP x 10"},{"t":156.8,"v":50.6,"s":"AP x 10"},{"t":157.5,"v":23.5,"s":"AP x 10"},{"t":158.1,"v":51.7,"s":"AP x 10"},{"t":158.5,"v":81.9,"s":"AP x 10"},{"t":159.0,"v":22.5,"s":"AP x 10"},{"t":159.3,"v":75,"s":"AP x 10"},{"t":159.9,"v":41.3,"s":"AP x 10"},{"t":160.2,"v":61,"s":"AP x 10"},{"t":160.7,"v":51.7,"s":"AP x 10"},{"t":161.3,"v":18.3,"s":"AP x 10"},{"t":162.3,"v":32.9,"s":"AP x 10"},{"t":162.5,"v":133,"s":"AP x 10"},{"t":162.8,"v":104,"s":"AP x 10"},{"t":163.2,"v":103,"s":"AP x 10"},{"t":163.5,"v":106,"s":"AP x 10"},{"t":164.0,"v":83,"s":"AP x 10"},{"t":164.4,"v":22.5,"s":"AP x 10"},{"t":164.9,"v":47.5,"s":"AP x 10"},{"t":165.2,"v":47.5,"s":"AP x 10"},{"t":165.4,"v":76.6,"s":"AP x 10"},{"t":165.9,"v":51.7,"s":"AP x 10"},{"t":166.2,"v":52.1,"s":"AP x 10"},{"t":166.5,"v":10,"s":"AP x 10"},{"t":166.9,"v":10,"s":"AP x 10"},{"t":167.0,"v":145,"s":"AP x 10"},{"t":167.4,"v":24.6,"s":"AP x 10"},{"t":167.9,"v":24.2,"s":"AP x 10"},{"t":168.5,"v":24.6,"s":"AP x 10"},{"t":169.0,"v":28.8,"s":"AP x 10"},{"t":169.7,"v":26.7,"s":"AP x 10"},{"t":170.3,"v":66.3,"s":"AP x 10"},{"t":170.9,"v":44.4,"s":"AP x 10"},{"t":171.4,"v":43.3,"s":"AP x 10"},{"t":172.3,"v":36,"s":"AP x 10"},{"t":172.7,"v":67.9,"s":"AP x 10"},{"t":173.2,"v":38.1,"s":"AP x 10"},{"t":173.5,"v":51,"s":"AP x 10"},{"t":173.9,"v":36,"s":"AP x 10"},{"t":174.6,"v":32.9,"s":"AP x 10"},{"t":175.3,"v":28.8,"s":"AP x 10"},{"t":176.4,"v":15.2,"s":"AP x 10"},{"t":176.9,"v":23.5,"s":"AP x 10"},{"t":177.5,"v":36,"s":"AP x 10"},{"t":177.9,"v":30.8,"s":"AP x 10"},{"t":178.4,"v":20.4,"s":"AP x 10"},{"t":178.7,"v":62.1,"s":"AP x 10"},{"t":179.0,"v":58.3,"s":"AP x 10"},{"t":179.3,"v":1.7,"s":"AP x 10"},{"t":179.8,"v":22.5,"s":"AP x 10"},{"t":180.6,"v":69.4,"s":"AP x 10"},{"t":181.1,"v":70,"s":"AP x 10"},{"t":181.3,"v":20.4,"s":"AP x 10"},{"t":181.6,"v":70.4,"s":"AP x 10"},{"t":181.9,"v":50.6,"s":"AP x 10"},{"t":182.2,"v":28.8,"s":"AP x 10"},{"t":182.8,"v":53.8,"s":"AP x 10"},{"t":183.3,"v":70.4,"s":"AP x 10"},{"t":183.8,"v":29.2,"s":"AP x 10"},{"t":184.3,"v":72.5,"s":"AP x 10"},{"t":184.7,"v":87.1,"s":"AP x 10"},{"t":185.2,"v":60,"s":"AP x 10"},{"t":186.0,"v":109,"s":"AP x 10"},{"t":186.5,"v":68.5,"s":"AP x 10"},{"t":187.1,"v":73.5,"s":"AP x 10"},{"t":188.5,"v":85,"s":"AP x 10"},{"t":188.9,"v":160,"s":"AP x 10"},{"t":189.4,"v":172,"s":"AP x 10"},{"t":190.0,"v":159,"s":"AP x 10"},
{"t":135.0,"v":13.3,"s":"Poaceae"},{"t":135.4,"v":10,"s":"Poaceae"},{"t":135.8,"v":12.5,"s":"Poaceae"},{"t":136.7,"v":11.7,"s":"Poaceae"},{"t":137.0,"v":10,"s":"Poaceae"},{"t":137.8,"v":16.9,"s":"Poaceae"},{"t":138.5,"v":16.3,"s":"Poaceae"},{"t":139.0,"v":14.2,"s":"Poaceae"},{"t":139.9,"v":13.3,"s":"Poaceae"},{"t":140.8,"v":29.2,"s":"Poaceae"},{"t":142.3,"v":14.6,"s":"Poaceae"},{"t":143.6,"v":17.9,"s":"Poaceae"},{"t":144.6,"v":11,"s":"Poaceae"},{"t":145.4,"v":15.8,"s":"Poaceae"},{"t":145.8,"v":12.1,"s":"Poaceae"},{"t":146.6,"v":19.4,"s":"Poaceae"},{"t":147.0,"v":34.4,"s":"Poaceae"},{"t":147.7,"v":17.9,"s":"Poaceae"},{"t":149.7,"v":11.7,"s":"Poaceae"},{"t":150.2,"v":25,"s":"Poaceae"},{"t":151.1,"v":13.1,"s":"Poaceae"},{"t":151.7,"v":10,"s":"Poaceae"},{"t":152.8,"v":5.8,"s":"Poaceae"},{"t":153.3,"v":11,"s":"Poaceae"},{"t":154.0,"v":13.5,"s":"Poaceae"},{"t":155.0,"v":11,"s":"Poaceae"},{"t":156.0,"v":11,"s":"Poaceae"},{"t":156.7,"v":15.8,"s":"Poaceae"},{"t":157.3,"v":14.2,"s":"Poaceae"},{"t":158.0,"v":12.1,"s":"Poaceae"},{"t":158.5,"v":20.4,"s":"Poaceae"},{"t":159.1,"v":14.2,"s":"Poaceae"},{"t":159.6,"v":17.9,"s":"Poaceae"},{"t":160.2,"v":24.2,"s":"Poaceae"},{"t":160.5,"v":14.2,"s":"Poaceae"},{"t":161.3,"v":20,"s":"Poaceae"},{"t":162.3,"v":13.3,"s":"Poaceae"},{"t":163.1,"v":20.4,"s":"Poaceae"},{"t":163.4,"v":36.7,"s":"Poaceae"},{"t":164.0,"v":34,"s":"Poaceae"},{"t":164.6,"v":16.3,"s":"Poaceae"},{"t":165.0,"v":30.8,"s":"Poaceae"},{"t":165.4,"v":24.6,"s":"Poaceae"},{"t":165.6,"v":16.7,"s":"Poaceae"},{"t":166.1,"v":39.6,"s":"Poaceae"},{"t":166.5,"v":15.2,"s":"Poaceae"},{"t":166.9,"v":33.5,"s":"Poaceae"},{"t":167.0,"v":53.3,"s":"Poaceae"},{"t":167.3,"v":24.6,"s":"Poaceae"},{"t":168.1,"v":22.5,"s":"Poaceae"},{"t":169.0,"v":17.3,"s":"Poaceae"},{"t":169.9,"v":20.4,"s":"Poaceae"},{"t":170.3,"v":14.2,"s":"Poaceae"},{"t":170.8,"v":22.1,"s":"Poaceae"},{"t":171.4,"v":13.1,"s":"Poaceae"},{"t":172.1,"v":8.9,"s":"Poaceae"},{"t":172.5,"v":17.9,"s":"Poaceae"},{"t":173.2,"v":15.2,"s":"Poaceae"},{"t":173.9,"v":11,"s":"Poaceae"},{"t":175.3,"v":10.4,"s":"Poaceae"},{"t":176.4,"v":2.7,"s":"Poaceae"},{"t":176.9,"v":6.9,"s":"Poaceae"},{"t":177.7,"v":12.1,"s":"Poaceae"},{"t":178.3,"v":8.3,"s":"Poaceae"},{"t":179.0,"v":9,"s":"Poaceae"},{"t":179.3,"v":4.8,"s":"Poaceae"},{"t":179.9,"v":6.9,"s":"Poaceae"},{"t":180.4,"v":12.5,"s":"Poaceae"},{"t":181.1,"v":12.1,"s":"Poaceae"},{"t":181.6,"v":5.8,"s":"Poaceae"},{"t":181.9,"v":11,"s":"Poaceae"},{"t":182.2,"v":6.9,"s":"Poaceae"},{"t":182.9,"v":12.5,"s":"Poaceae"},{"t":183.8,"v":17.3,"s":"Poaceae"},{"t":184.6,"v":15.8,"s":"Poaceae"},{"t":185.3,"v":17.9,"s":"Poaceae"},{"t":186.0,"v":31.9,"s":"Poaceae"},{"t":186.4,"v":33.3,"s":"Poaceae"},{"t":186.9,"v":29.8,"s":"Poaceae"},{"t":188.0,"v":35,"s":"Poaceae"},{"t":188.9,"v":40.2,"s":"Poaceae"},{"t":189.4,"v":30.8,"s":"Poaceae"},
{"t":135.0,"v":5.8,"s":"Total tree pollen"},{"t":136.3,"v":3.8,"s":"Total tree pollen"},{"t":137.4,"v":1.7,"s":"Total tree pollen"},{"t":137.7,"v":9,"s":"Total tree pollen"},{"t":138.1,"v":5.4,"s":"Total tree pollen"},{"t":138.6,"v":1.7,"s":"Total tree pollen"},{"t":138.9,"v":5.4,"s":"Total tree pollen"},{"t":139.8,"v":5.4,"s":"Total tree pollen"},{"t":140.0,"v":2.1,"s":"Total tree pollen"},{"t":140.3,"v":6.3,"s":"Total tree pollen"},{"t":141.4,"v":4.8,"s":"Total tree pollen"},{"t":142.5,"v":2.1,"s":"Total tree pollen"},{"t":143.7,"v":4.2,"s":"Total tree pollen"},{"t":144.6,"v":1.7,"s":"Total tree pollen"},{"t":145.6,"v":6.9,"s":"Total tree pollen"},{"t":145.8,"v":1.7,"s":"Total tree pollen"},{"t":146.6,"v":4.8,"s":"Total tree pollen"},{"t":147.2,"v":5.8,"s":"Total tree pollen"},{"t":147.6,"v":5.4,"s":"Total tree pollen"},{"t":147.9,"v":1.7,"s":"Total tree pollen"},{"t":148.6,"v":2.7,"s":"Total tree pollen"},{"t":150.3,"v":6.9,"s":"Total tree pollen"},{"t":151.0,"v":3.8,"s":"Total tree pollen"},{"t":152.9,"v":3.3,"s":"Total tree pollen"},{"t":154.0,"v":3.8,"s":"Total tree pollen"},{"t":156.2,"v":2.7,"s":"Total tree pollen"},{"t":156.8,"v":5.4,"s":"Total tree pollen"},{"t":157.3,"v":2.7,"s":"Total tree pollen"},{"t":158.5,"v":4.8,"s":"Total tree pollen"},{"t":159.1,"v":7.9,"s":"Total tree pollen"},{"t":159.5,"v":5.4,"s":"Total tree pollen"},{"t":160.2,"v":7.5,"s":"Total tree pollen"},{"t":160.9,"v":4.2,"s":"Total tree pollen"},{"t":162.3,"v":2.1,"s":"Total tree pollen"},{"t":162.5,"v":14.6,"s":"Total tree pollen"},{"t":162.9,"v":11,"s":"Total tree pollen"},{"t":163.8,"v":11,"s":"Total tree pollen"},{"t":164.6,"v":1.7,"s":"Total tree pollen"},{"t":165.6,"v":4.8,"s":"Total tree pollen"},{"t":166.3,"v":2.1,"s":"Total tree pollen"},{"t":166.9,"v":1.3,"s":"Total tree pollen"},{"t":167.0,"v":15.2,"s":"Total tree pollen"},{"t":167.2,"v":1.7,"s":"Total tree pollen"},{"t":168.8,"v":1.7,"s":"Total tree pollen"},{"t":169.9,"v":2.7,"s":"Total tree pollen"},{"t":170.3,"v":5.4,"s":"Total tree pollen"},{"t":171.0,"v":3.8,"s":"Total tree pollen"},{"t":172.8,"v":6.3,"s":"Total tree pollen"},{"t":173.2,"v":4.2,"s":"Total tree pollen"},{"t":174.3,"v":2.7,"s":"Total tree pollen"},{"t":176.1,"v":1.7,"s":"Total tree pollen"},{"t":177.5,"v":3.8,"s":"Total tree pollen"},{"t":178.7,"v":6.3,"s":"Total tree pollen"},{"t":179.1,"v":1.7,"s":"Total tree pollen"},{"t":179.7,"v":2.7,"s":"Total tree pollen"},{"t":180.4,"v":6.9,"s":"Total tree pollen"},{"t":181.1,"v":6.9,"s":"Total tree pollen"},{"t":181.5,"v":2.7,"s":"Total tree pollen"},{"t":181.9,"v":6.9,"s":"Total tree pollen"},{"t":182.6,"v":4.8,"s":"Total tree pollen"},{"t":183.3,"v":7.9,"s":"Total tree pollen"},{"t":184.0,"v":4.8,"s":"Total tree pollen"},{"t":184.6,"v":9,"s":"Total tree pollen"},{"t":185.3,"v":6.9,"s":"Total tree pollen"},{"t":186.0,"v":12.1,"s":"Total tree pollen"},{"t":186.5,"v":9,"s":"Total tree pollen"},{"t":188.6,"v":10,"s":"Total tree pollen"},{"t":188.9,"v":16.3,"s":"Total tree pollen"},{"t":189.4,"v":18.3,"s":"Total tree pollen"},
{"t":135.0,"v":2,"s":"Quercus"},{"t":136.5,"v":1,"s":"Quercus"},{"t":138.0,"v":1.5,"s":"Quercus"},{"t":140.3,"v":3,"s":"Quercus"},{"t":141.5,"v":1,"s":"Quercus"},{"t":143.5,"v":1.5,"s":"Quercus"},{"t":145.6,"v":3,"s":"Quercus"},{"t":146.0,"v":1,"s":"Quercus"},{"t":147.2,"v":2.5,"s":"Quercus"},{"t":148.0,"v":1,"s":"Quercus"},{"t":150.3,"v":1.5,"s":"Quercus"},{"t":152.0,"v":0.8,"s":"Quercus"},{"t":155.0,"v":1,"s":"Quercus"},{"t":158.0,"v":1,"s":"Quercus"},{"t":159.1,"v":2,"s":"Quercus"},{"t":160.5,"v":1,"s":"Quercus"},{"t":162.5,"v":4,"s":"Quercus"},{"t":163.5,"v":1.5,"s":"Quercus"},{"t":165.6,"v":2,"s":"Quercus"},{"t":167.0,"v":3,"s":"Quercus"},{"t":167.5,"v":0.5,"s":"Quercus"},{"t":170.3,"v":1.5,"s":"Quercus"},{"t":172.8,"v":2,"s":"Quercus"},{"t":175.0,"v":0.5,"s":"Quercus"},{"t":178.7,"v":3,"s":"Quercus"},{"t":179.3,"v":0.5,"s":"Quercus"},{"t":180.4,"v":4,"s":"Quercus"},{"t":181.5,"v":1.5,"s":"Quercus"},{"t":182.6,"v":2.5,"s":"Quercus"},{"t":183.5,"v":1.5,"s":"Quercus"},{"t":184.6,"v":3,"s":"Quercus"},{"t":185.3,"v":2.5,"s":"Quercus"},{"t":186.0,"v":5,"s":"Quercus"},{"t":186.5,"v":3.5,"s":"Quercus"},{"t":188.6,"v":5,"s":"Quercus"},{"t":189.0,"v":12,"s":"Quercus"},{"t":189.4,"v":12.5,"s":"Quercus"},
{"t":135.0,"v":0.5,"s":"Pinus"},{"t":137.7,"v":1.5,"s":"Pinus"},{"t":138.5,"v":0.3,"s":"Pinus"},{"t":140.0,"v":0.5,"s":"Pinus"},{"t":142.0,"v":0.5,"s":"Pinus"},{"t":145.6,"v":2,"s":"Pinus"},{"t":146.0,"v":0.3,"s":"Pinus"},{"t":147.2,"v":2.5,"s":"Pinus"},{"t":148.0,"v":0.5,"s":"Pinus"},{"t":155.0,"v":0.5,"s":"Pinus"},{"t":159.0,"v":1,"s":"Pinus"},{"t":162.0,"v":0.5,"s":"Pinus"},{"t":162.5,"v":5.5,"s":"Pinus"},{"t":163.2,"v":2,"s":"Pinus"},{"t":164.0,"v":0.5,"s":"Pinus"},{"t":165.6,"v":3.5,"s":"Pinus"},{"t":166.0,"v":1,"s":"Pinus"},{"t":167.0,"v":2,"s":"Pinus"},{"t":168.0,"v":0.5,"s":"Pinus"},{"t":175.0,"v":0.5,"s":"Pinus"},{"t":178.7,"v":1.5,"s":"Pinus"},{"t":180.0,"v":0.5,"s":"Pinus"},{"t":185.3,"v":0.8,"s":"Pinus"},{"t":186.0,"v":2.5,"s":"Pinus"},{"t":187.0,"v":1,"s":"Pinus"},{"t":188.6,"v":1.5,"s":"Pinus"},{"t":189.4,"v":2,"s":"Pinus"}
 ],
 "bandsA": [
{"band":"a1","p":305,"x1":44.0,"x2":47.25},{"band":"a1","p":0,"x1":44.0,"x2":47.25},
{"band":"a2","p":305,"x1":48.87,"x2":55.0},{"band":"a2","p":127,"x1":48.87,"x2":55.0},{"band":"a2","p":113,"x1":48.33,"x2":54.16},{"band":"a2","p":0,"x1":48.33,"x2":54.16},
{"band":"a3","p":305,"x1":56.6,"x2":60.1},{"band":"a3","p":0,"x1":56.6,"x2":60.1},
{"band":"a4","p":305,"x1":70.9,"x2":73.05},{"band":"a4","p":127,"x1":70.9,"x2":73.05},{"band":"a4","p":113,"x1":70.9,"x2":72.3},{"band":"a4","p":0,"x1":70.9,"x2":72.3}
 ],
 "bandsB": [
{"band":"b1","p":305,"x1":141.29,"x2":142.86},{"band":"b1","p":138,"x1":141.29,"x2":142.86},{"band":"b1","p":122.5,"x1":142.75,"x2":144.64},{"band":"b1","p":0,"x1":142.75,"x2":144.64},
{"band":"b2","p":305,"x1":143.7,"x2":144.53},{"band":"b2","p":138,"x1":143.7,"x2":144.53},{"band":"b2","p":122.5,"x1":145.27,"x2":145.9},{"band":"b2","p":0,"x1":145.27,"x2":145.9},
{"band":"b3","p":305,"x1":146.31,"x2":148.51},{"band":"b3","p":138,"x1":146.31,"x2":148.51},{"band":"b3","p":122.5,"x1":146.63,"x2":148.62},{"band":"b3","p":0,"x1":146.63,"x2":148.62},
{"band":"b4","p":305,"x1":148.83,"x2":150.3},{"band":"b4","p":138,"x1":148.83,"x2":150.3},{"band":"b4","p":122.5,"x1":149.67,"x2":151.24},{"band":"b4","p":0,"x1":149.67,"x2":151.24},
{"band":"b5","p":305,"x1":158.89,"x2":160.14},{"band":"b5","p":138,"x1":158.89,"x2":160.14},{"band":"b5","p":122.5,"x1":158.99,"x2":161.19},{"band":"b5","p":0,"x1":158.99,"x2":161.19},
{"band":"b6","p":305,"x1":161.4,"x2":163.81},{"band":"b6","p":138,"x1":161.4,"x2":163.81},{"band":"b6","p":122.5,"x1":162.34,"x2":166.33},{"band":"b6","p":0,"x1":162.34,"x2":166.33},
{"band":"b7","p":305,"x1":168.0,"x2":173.03},{"band":"b7","p":138,"x1":168.0,"x2":173.03},{"band":"b7","p":122.5,"x1":169.68,"x2":174.39},{"band":"b7","p":0,"x1":169.68,"x2":174.39},
{"band":"b8","p":305,"x1":176.8,"x2":179.0},{"band":"b8","p":138,"x1":176.8,"x2":179.0},{"band":"b8","p":122.5,"x1":177.01,"x2":179.21},{"band":"b8","p":0,"x1":177.01,"x2":179.21}
 ],
 "labelsAc": [
{"t":14.5,"p":182.5,"text":"1"},{"t":18.85,"p":182.5,"text":"DO"},{"t":22.85,"p":182.5,"text":"2"},{"t":27.4,"p":182.5,"text":"3"},{"t":28.7,"p":182.5,"text":"4"},{"t":32.4,"p":182.5,"text":"5"},{"t":33.75,"p":182.5,"text":"6"},{"t":35.55,"p":182.5,"text":"7"},{"t":38.4,"p":182.5,"text":"8"},{"t":41.55,"p":182.5,"text":"10"},{"t":43.5,"p":182.5,"text":"11"},{"t":46.8,"p":182.5,"text":"12"},{"t":49.4,"p":182.5,"text":"13"},{"t":54.5,"p":182.5,"text":"14"},{"t":58.45,"p":182.5,"text":"16"},{"t":64.6,"p":182.5,"text":"18"},{"t":72.2,"p":182.5,"text":"19"},
{"t":12.3,"p":-6.9,"text":"1"},{"t":20.8,"p":-6.9,"text":"2"},{"t":44.5,"p":-6.9,"text":"3"},{"t":67.7,"p":-6.9,"text":"4"}
 ],
 "labelsAl": [
{"t":16.7,"p":283.1,"text":"Mid-June","s":"Mid-June"},{"t":16.7,"p":273.75,"text":"Mid-January","s":"Mid-January"},{"t":16.7,"p":202,"text":"NGRIP (δ¹⁸O ‰)","s":"NGRIP"},{"t":16.69,"p":101.25,"text":"Total tree pollen (AP %) and","s":"Total tree pollen"},{"t":33.7,"p":101.25,"text":"AP (%) x 10","s":"AP x 10"},{"t":18.42,"p":89.4,"text":"Poaceae","s":"Poaceae"},{"t":18.42,"p":80,"text":"dec.","s":"Quercus"}
 ],
 "labelsAi": [
{"t":21.0,"p":80,"text":"Quercus","s":"Quercus"},{"t":18.64,"p":70.6,"text":"Pinus","s":"Pinus"}
 ],
 "labelsBc": [
{"t":159.06,"p":181,"text":"6vi"},{"t":162.27,"p":181,"text":"6v"},{"t":168.21,"p":181,"text":"6iv"},{"t":172.05,"p":181,"text":"6iii"},{"t":175.1,"p":181,"text":"6ii"},{"t":178.0,"p":181,"text":"6i"},{"t":169.15,"p":287.5,"text":"MIS 6e"},{"t":162.24,"p":-6.9,"text":"6"}
 ]
},
"hconcat": [
{
 "width": 602, "height": 512,
 "title": {"text": "(a)\u00a0\u00a0\u00a0\u00a0Last glacial", "anchor": "start", "frame": "group", "fontSize": 16, "offset": 24, "dx": 4},
 "resolve": {"scale": {"y": "independent"}, "axis": {"x": "independent", "y": "independent"}},
 "layer": [
  {"data": {"name": "bandsA"}, "mark": {"type": "area", "orient": "horizontal", "color": "#dcdcdc", "opacity": 1},
   "encoding": {
    "y": {"field": "p", "type": "quantitative", "scale": {"domain": [-15, 305], "nice": false, "zero": false}, "axis": null},
    "x": {"field": "x1", "type": "quantitative", "stack": null, "scale": {"domain": [10, 75], "nice": false, "zero": false},
      "axis": {"orient": "bottom", "values": [10,15,20,25,30,35,40,45,50,55,60,65,70,75], "labelExpr": "datum.value == 75 ? '' : datum.label", "tickSize": 12, "labelFontSize": 17, "labelPadding": 3, "domain": true, "domainWidth": 1.5, "title": null}},
    "x2": {"field": "x2"},
    "detail": {"field": "band"}
   }},
  {"data": {"values": [{"t": 15}, {"t": 27.6}, {"t": 60.6}]}, "mark": {"type": "rule", "strokeDash": [1.5, 2], "color": "#666", "strokeWidth": 1},
   "encoding": {
    "x": {"field": "t", "type": "quantitative", "scale": {"domain": [10, 75], "nice": false, "zero": false},
      "axis": {"orient": "bottom", "values": [10,11,12,13,14,15,16,17,18,19,20,21,22,23,24,25,26,27,28,29,30,31,32,33,34,35,36,37,38,39,40,41,42,43,44,45,46,47,48,49,50,51,52,53,54,55,56,57,58,59,60,61,62,63,64,65,66,67,68,69,70,71,72,73,74,75], "labels": false, "tickSize": 6, "domain": false, "title": null}}
   }},
  {"data": {"values": [{}]}, "mark": {"type": "rule", "color": "#444", "strokeWidth": 1.5},
   "encoding": {"y": {"datum": 0, "type": "quantitative", "scale": {"domain": [-15, 305], "nice": false, "zero": false}, "axis": null}}},
  {"data": {"name": "insA"}, "mark": {"type": "line", "interpolate": "monotone", "strokeWidth": 1.8},
   "encoding": {
    "x": {"field": "t", "type": "quantitative", "scale": {"domain": [10, 75], "nice": false, "zero": false}, "axis": null},
    "y": {"field": "v", "type": "quantitative", "scale": {"domain": [-54.29, 595.87], "nice": false, "zero": false},
      "axis": {"orient": "left", "values": [460, 480, 500, 520, 540], "labelExpr": "(datum.value - 460) % 40 == 0 ? datum.label : ''", "labelColor": "#f25a5a", "tickColor": "#f25a5a", "tickSize": 6, "labelPadding": 5, "domain": true, "domainWidth": 1.5, "title": null}},
    "color": {"field": "s", "type": "nominal", "scale": {"domain": ["Mid-June","Mid-January","NGRIP","AP x 10","Poaceae","Total tree pollen","Quercus","Pinus"], "range": ["#f25a5a","#1f3d7a","#2b2b2b","#858585","#e0660f","#000000","#b3303a","#2a8fa8"]}, "legend": null}
   }},
  {"data": {"name": "ngrip"}, "mark": {"type": "line", "color": "#2b2b2b", "strokeWidth": 1.1},
   "encoding": {
    "x": {"field": "t", "type": "quantitative", "scale": {"domain": [10, 75], "nice": false, "zero": false},
      "axis": {"orient": "top", "labels": false, "ticks": false, "domain": true, "domainWidth": 1.5, "title": null}},
    "y": {"field": "v", "type": "quantitative", "scale": {"domain": [-73.05, -8.38], "nice": false, "zero": false},
      "axis": {"orient": "left", "values": [-44, -42, -40, -38, -36, -34, -32], "labelExpr": "datum.value % 4 == 0 ? '-' + abs(datum.value) : ''", "tickSize": 7, "labelPadding": 3, "domain": false, "title": null}}
   }},
  {"data": {"name": "polA"}, "mark": {"type": "line", "strokeWidth": 1.8},
   "encoding": {
    "x": {"field": "t", "type": "quantitative", "scale": {"domain": [10, 75], "nice": false, "zero": false}, "axis": null},
    "y": {"field": "v", "type": "quantitative", "scale": {"domain": [-15, 305], "nice": false, "zero": false}, "axis": null},
    "color": {"field": "s", "type": "nominal", "scale": {"domain": ["Mid-June","Mid-January","NGRIP","AP x 10","Poaceae","Total tree pollen","Quercus","Pinus"], "range": ["#f25a5a","#1f3d7a","#2b2b2b","#858585","#e0660f","#000000","#b3303a","#2a8fa8"]}, "legend": null}
   }},
  {"data": {"name": "labelsAc"}, "mark": {"type": "text", "fontSize": 14, "color": "#222"},
   "encoding": {
    "x": {"field": "t", "type": "quantitative", "scale": {"domain": [10, 75], "nice": false, "zero": false}, "axis": null},
    "y": {"field": "p", "type": "quantitative", "scale": {"domain": [-15, 305], "nice": false, "zero": false}, "axis": null},
    "text": {"field": "text"}
   }},
  {"data": {"name": "labelsAl"}, "mark": {"type": "text", "fontSize": 13, "align": "left"},
   "encoding": {
    "x": {"field": "t", "type": "quantitative", "scale": {"domain": [10, 75], "nice": false, "zero": false}, "axis": null},
    "y": {"field": "p", "type": "quantitative", "scale": {"domain": [-15, 305], "nice": false, "zero": false}, "axis": null},
    "text": {"field": "text"},
    "color": {"field": "s", "type": "nominal", "scale": {"domain": ["Mid-June","Mid-January","NGRIP","AP x 10","Poaceae","Total tree pollen","Quercus","Pinus"], "range": ["#f25a5a","#1f3d7a","#2b2b2b","#858585","#e0660f","#000000","#b3303a","#2a8fa8"]}, "legend": null}
   }},
  {"data": {"name": "labelsAi"}, "mark": {"type": "text", "fontSize": 13, "align": "left", "fontStyle": "italic"},
   "encoding": {
    "x": {"field": "t", "type": "quantitative", "scale": {"domain": [10, 75], "nice": false, "zero": false}, "axis": null},
    "y": {"field": "p", "type": "quantitative", "scale": {"domain": [-15, 305], "nice": false, "zero": false}, "axis": null},
    "text": {"field": "text"},
    "color": {"field": "s", "type": "nominal", "scale": {"domain": ["Mid-June","Mid-January","NGRIP","AP x 10","Poaceae","Total tree pollen","Quercus","Pinus"], "range": ["#f25a5a","#1f3d7a","#2b2b2b","#858585","#e0660f","#000000","#b3303a","#2a8fa8"]}, "legend": null}
   }},
  {"data": {"values": [{"t": 6.6, "p": -6.9, "text": "MIS"}]}, "mark": {"type": "text", "fontSize": 18, "color": "#222"},
   "encoding": {
    "x": {"field": "t", "type": "quantitative", "scale": {"domain": [10, 75], "nice": false, "zero": false}, "axis": null},
    "y": {"field": "p", "type": "quantitative", "scale": {"domain": [-15, 305], "nice": false, "zero": false}, "axis": null},
    "text": {"field": "text"}
   }},
  {"data": {"values": [{"t": 78.8, "p": 305}, {"t": 78.8, "p": -15}]}, "mark": {"type": "text", "fontSize": 12, "color": "#333", "text": "-//-"},
   "encoding": {
    "x": {"field": "t", "type": "quantitative", "scale": {"domain": [10, 75], "nice": false, "zero": false}, "axis": null},
    "y": {"field": "p", "type": "quantitative", "scale": {"domain": [-15, 305], "nice": false, "zero": false}, "axis": null}
   }}
 ]
},
{
 "width": 525, "height": 512,
 "title": {"text": "(b)\u00a0\u00a0\u00a0\u00a0Penultimate glacial", "anchor": "start", "frame": "group", "fontSize": 16, "offset": 30, "dx": 7},
 "resolve": {"scale": {"y": "independent"}, "axis": {"x": "independent", "y": "independent"}},
 "layer": [
  {"data": {"name": "bandsB"}, "mark": {"type": "area", "orient": "horizontal", "color": "#dcdcdc", "opacity": 1},
   "encoding": {
    "y": {"field": "p", "type": "quantitative", "scale": {"domain": [-15, 305], "nice": false, "zero": false}, "axis": null},
    "x": {"field": "x1", "type": "quantitative", "stack": null, "scale": {"domain": [135, 190], "nice": false, "zero": false},
      "axis": {"orient": "bottom", "values": [135,140,145,150,155,160,165,170,175,180,185,190], "tickSize": 12, "labelFontSize": 17, "labelPadding": 3, "domain": true, "domainWidth": 1.5, "title": null}},
    "x2": {"field": "x2"},
    "detail": {"field": "band"}
   }},
  {"data": {"values": [{}]}, "mark": {"type": "rule", "color": "#444", "strokeWidth": 1.5},
   "encoding": {"y": {"datum": 0, "type": "quantitative", "scale": {"domain": [-15, 305], "nice": false, "zero": false}, "axis": null}}},
  {"data": {"values": [{"t1": 159.93, "t2": 178.37, "p": 280}]}, "mark": {"type": "rule", "color": "#444", "strokeWidth": 1.2},
   "encoding": {
    "x": {"field": "t1", "type": "quantitative", "scale": {"domain": [135, 190], "nice": false, "zero": false}, "axis": null},
    "x2": {"field": "t2"},
    "y": {"field": "p", "type": "quantitative", "scale": {"domain": [-15, 305], "nice": false, "zero": false}, "axis": null}
   }},
  {"data": {"name": "insB"}, "mark": {"type": "line", "interpolate": "monotone", "strokeWidth": 1.8},
   "encoding": {
    "x": {"field": "t", "type": "quantitative", "scale": {"domain": [135, 190], "nice": false, "zero": false}, "axis": null},
    "y": {"field": "v", "type": "quantitative", "scale": {"domain": [-355.24, 294.92], "nice": false, "zero": false},
      "axis": {"orient": "right", "values": [140, 160, 180, 200, 220], "labelExpr": "(datum.value - 140) % 40 == 0 ? datum.label : ''", "labelColor": "#2a4a80", "tickColor": "#2a4a80", "tickSize": 6, "labelPadding": 4, "domain": true, "domainWidth": 1.5,
        "title": ["Insolation 40° N", "(Wm⁻²)"], "titleFontSize": 15, "titleAngle": 270, "titleAlign": "center", "titleBaseline": "middle", "titleX": 50, "titleY": 93}},
    "color": {"field": "s", "type": "nominal", "scale": {"domain": ["Mid-June","Mid-January","NGRIP","AP x 10","Poaceae","Total tree pollen","Quercus","Pinus"], "range": ["#f25a5a","#1f3d7a","#2b2b2b","#858585","#e0660f","#000000","#b3303a","#2a8fa8"]}, "legend": null}
   }},
  {"data": {"name": "md01"}, "mark": {"type": "line", "color": "#2b2b2b", "strokeWidth": 1.4},
   "encoding": {
    "x": {"field": "t", "type": "quantitative", "scale": {"domain": [135, 190], "nice": false, "zero": false},
      "axis": {"orient": "top", "labels": false, "ticks": false, "domain": true, "domainWidth": 1.5, "title": null}},
    "y": {"field": "v", "type": "quantitative", "scale": {"domain": [0.328, 9.155], "reverse": true, "nice": false, "zero": false},
      "axis": {"orient": "right", "values": [3.5, 4, 4.5], "format": ".2~f", "tickSize": 6, "labelPadding": 4, "domain": false, "title": null}}
   }},
  {"data": {"name": "polB"}, "mark": {"type": "line", "strokeWidth": 1.8},
   "encoding": {
    "x": {"field": "t", "type": "quantitative", "scale": {"domain": [135, 190], "nice": false, "zero": false}, "axis": null},
    "y": {"field": "v", "type": "quantitative", "scale": {"domain": [-15, 305], "nice": false, "zero": false},
      "axis": {"orient": "right", "values": [0,10,20,30,40,50,60,70,80,90,100], "labelExpr": "datum.value % 20 == 0 ? datum.label : ''", "tickSize": 6, "labelPadding": 4, "domain": false,
        "title": "Paleovegetation", "titleFontSize": 15, "titleAngle": 270, "titleAlign": "center", "titleBaseline": "middle", "titleX": 50, "titleY": 410}},
    "color": {"field": "s", "type": "nominal", "scale": {"domain": ["Mid-June","Mid-January","NGRIP","AP x 10","Poaceae","Total tree pollen","Quercus","Pinus"], "range": ["#f25a5a","#1f3d7a","#2b2b2b","#858585","#e0660f","#000000","#b3303a","#2a8fa8"]}, "legend": null}
   }},
  {"data": {"name": "labelsBc"}, "mark": {"type": "text", "fontSize": 14, "color": "#222"},
   "encoding": {
    "x": {"field": "t", "type": "quantitative", "scale": {"domain": [135, 190], "nice": false, "zero": false},
      "axis": {"orient": "bottom", "values": [135,136,137,138,139,140,141,142,143,144,145,146,147,148,149,150,151,152,153,154,155,156,157,158,159,160,161,162,163,164,165,166,167,168,169,170,171,172,173,174,175,176,177,178,179,180,181,182,183,184,185,186,187,188,189,190], "labels": false, "tickSize": 6, "domain": false, "title": null}},
    "y": {"field": "p", "type": "quantitative", "scale": {"domain": [-15, 305], "nice": false, "zero": false}, "axis": null},
    "text": {"field": "text"}
   }},
  {"data": {"values": [{"t": 138.56, "p": 203, "text": "MD01-2444 (δ¹⁸O"}, {"t": 151.6, "p": 203, "text": "‰ PDB)"}]}, "mark": {"type": "text", "fontSize": 13.5, "align": "left", "color": "#222"},
   "encoding": {
    "x": {"field": "t", "type": "quantitative", "scale": {"domain": [135, 190], "nice": false, "zero": false}, "axis": null},
    "y": {"field": "p", "type": "quantitative", "scale": {"domain": [-15, 305], "nice": false, "zero": false}, "axis": null},
    "text": {"field": "text"}
   }},
  {"data": {"values": [{"t": 148.6, "p": 199, "text": "benthic"}]}, "mark": {"type": "text", "fontSize": 9, "align": "left", "color": "#222"},
   "encoding": {
    "x": {"field": "t", "type": "quantitative", "scale": {"domain": [135, 190], "nice": false, "zero": false}, "axis": null},
    "y": {"field": "p", "type": "quantitative", "scale": {"domain": [-15, 305], "nice": false, "zero": false}, "axis": null},
    "text": {"field": "text"}
   }},
  {"data": {"values": [{"t": 175.75, "p": 103, "text": "?"}]}, "mark": {"type": "text", "fontSize": 18, "color": "#222"},
   "encoding": {
    "x": {"field": "t", "type": "quantitative", "scale": {"domain": [135, 190], "nice": false, "zero": false}, "axis": null},
    "y": {"field": "p", "type": "quantitative", "scale": {"domain": [-15, 305], "nice": false, "zero": false}, "axis": null},
    "text": {"field": "text"}
   }}
 ]
}
],
"spacing": 70,
"bounds": "flush"
}
